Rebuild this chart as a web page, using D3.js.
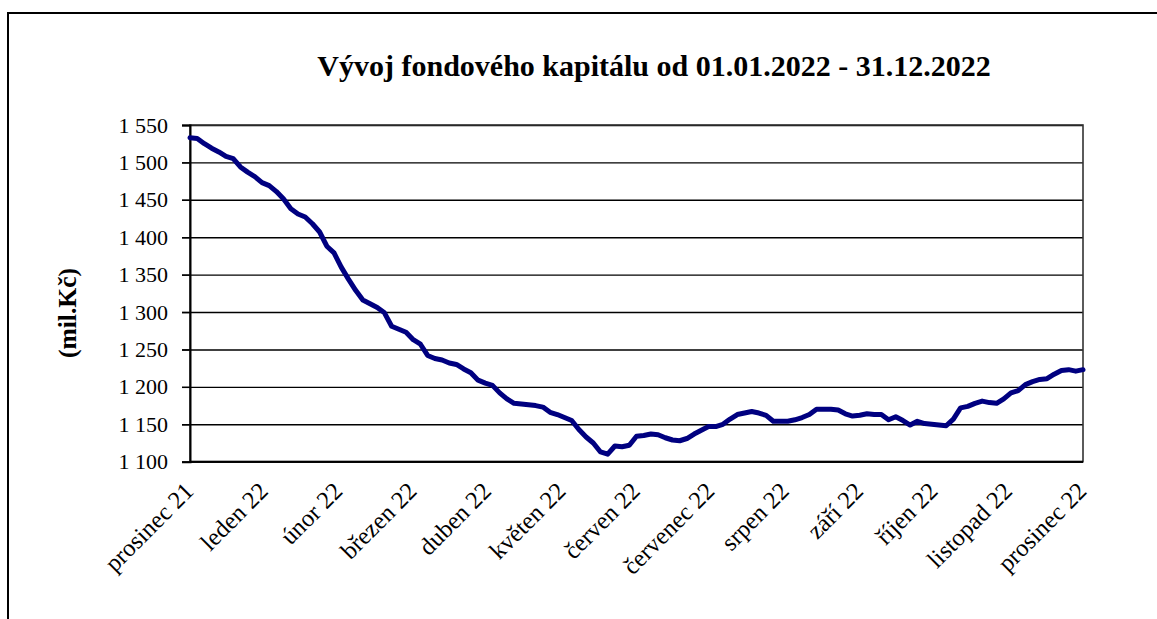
<!DOCTYPE html>
<html>
<head>
<meta charset="utf-8">
<script src="https://cdn.jsdelivr.net/npm/d3@7"></script>
<style>
  html, body { margin: 0; padding: 0; background: #fff; }
  svg { display: block; }
  text { font-family: "Liberation Serif", "Times New Roman", serif; fill: #000; }
</style>
</head>
<body>
<svg id="chart" width="1157" height="619"></svg>
<script>
/* Vývoj fondového kapitálu 2022 */

const TITLE = 'Vývoj fondového kapitálu od 01.01.2022 - 31.12.2022';
const Y_TITLE = '(mil.Kč)';

const MONTHS = ['prosinec 21','leden 22','únor 22','březen 22','duben 22','květen 22','červen 22',
  'červenec 22','srpen 22','září 22','říjen 22','listopad 22','prosinec 22'];

const Y_TICKS = [1100, 1150, 1200, 1250, 1300, 1350, 1400, 1450, 1500, 1550];

// fund capital, mil. Kč at regular steps
const CAPITAL = [
  1533, 1532, 1525, 1519, 1514, 1508, 1505, 1494, 1487, 1481,
  1473, 1469, 1461, 1451, 1438, 1431, 1427, 1418, 1407, 1388,
  1379, 1360, 1344, 1329, 1316, 1311, 1306, 1299, 1281, 1277,
  1273, 1263, 1257, 1242, 1238, 1236, 1232, 1230, 1224, 1219,
  1209, 1205, 1202, 1192, 1184, 1178, 1177, 1176, 1175, 1173,
  1166, 1163, 1159, 1155, 1143, 1133, 1125, 1113, 1110, 1121,
  1120, 1122, 1134, 1135, 1137, 1136, 1132, 1129, 1128, 1131,
  1137, 1142, 1147, 1147, 1150, 1157, 1163, 1165, 1167, 1165,
  1162, 1154, 1154, 1154, 1156, 1159, 1163, 1170, 1170, 1170,
  1169, 1164, 1161, 1162, 1164, 1163, 1163, 1156, 1160, 1155,
  1149, 1154, 1151, 1150, 1149, 1148, 1157, 1172, 1174, 1178,
  1181, 1179, 1178, 1184, 1192, 1195, 1203, 1207, 1210, 1211,
  1217, 1222, 1223, 1221, 1223
];

const box = { left: 190, top: 125, right: 1083, bottom: 461.7 };
const plotW = box.right - box.left;

const svg = d3.select('#chart');

// outer frame (runs off the picture to the right and bottom)
svg.append('rect')
  .attr('x', 8).attr('y', 13)
  .attr('width', 1300).attr('height', 800)
  .attr('fill', 'none').attr('stroke', '#000').attr('stroke-width', 2);

const x = d3.scaleLinear().domain([0, CAPITAL.length - 1]).range([box.left, box.right]);
const xLab = d3.scalePoint().domain(MONTHS).range([box.left, box.right]);
const y = d3.scaleLinear().domain([1100, 1550]).range([box.bottom, box.top]);

const czFmt = d3.formatLocale({ decimal: ',', thousands: ' ', grouping: [3], currency: ['', ''] }).format(',');

// gridlines, drawn from the right edge out past the axis (they double as tick marks)
svg.append('g')
  .attr('transform', `translate(${box.right},0)`)
  .call(d3.axisLeft(y).tickValues(Y_TICKS).tickSize(plotW + 8).tickFormat(''))
  .call(g => g.select('.domain').remove())
  .call(g => g.selectAll('line').attr('stroke', '#000').attr('stroke-width', 1.4));

// plot area border
svg.append('rect')
  .attr('x', box.left).attr('y', box.top)
  .attr('width', plotW).attr('height', box.bottom - box.top)
  .attr('fill', 'none').attr('stroke', '#333').attr('stroke-width', 1.6);

// y axis with labels
svg.append('g')
  .attr('transform', `translate(${box.left},0)`)
  .call(d3.axisLeft(y).tickValues(Y_TICKS).tickSize(8).tickPadding(14).tickFormat(czFmt))
  .call(g => g.select('.domain').attr('stroke', '#000').attr('stroke-width', 2))
  .call(g => g.selectAll('line').attr('stroke', '#000').attr('stroke-width', 1.4))
  .call(g => g.selectAll('text').attr('font-size', 22).attr('font-family', null));

// x axis line
svg.append('line')
  .attr('x1', box.left).attr('x2', box.right)
  .attr('y1', box.bottom).attr('y2', box.bottom)
  .attr('stroke', '#000').attr('stroke-width', 2);

// rotated month labels
svg.append('g').selectAll('text')
  .data(MONTHS)
  .join('text')
  .attr('text-anchor', 'end')
  .attr('font-size', 24.5)
  .attr('transform', d => `translate(${xLab(d) + 5},${box.bottom + 31}) rotate(-45)`)
  .text(d => d);

// the series
const line = d3.line().x((d, i) => x(i)).y(d => y(d));
svg.append('path')
  .datum(CAPITAL)
  .attr('d', line)
  .attr('fill', 'none')
  .attr('stroke', '#000080')
  .attr('stroke-width', 5)
  .attr('stroke-linejoin', 'round')
  .attr('stroke-linecap', 'round');

// titles
svg.append('text')
  .attr('x', 654).attr('y', 76)
  .attr('text-anchor', 'middle')
  .attr('font-size', 30)
  .attr('font-weight', 'bold')
  .text(TITLE);

svg.append('text')
  .attr('transform', `translate(76,313) rotate(-90)`)
  .attr('text-anchor', 'middle')
  .attr('font-size', 25.5)
  .attr('font-weight', 'bold')
  .text(Y_TITLE);
</script>
</body>
</html>
